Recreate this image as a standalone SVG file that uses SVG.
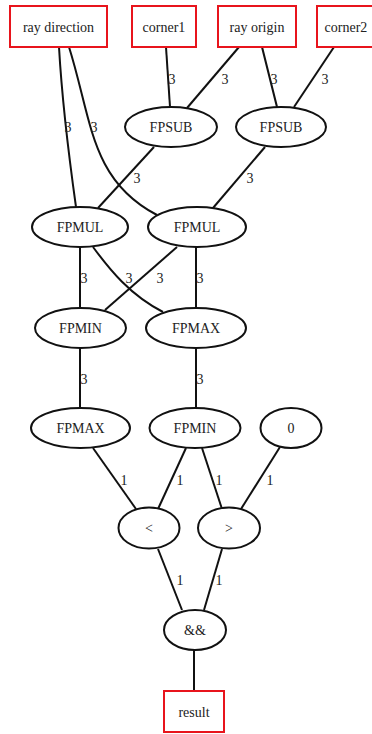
<svg xmlns="http://www.w3.org/2000/svg" width="372" height="734" viewBox="0 0 372 734">
<style>
text{font-family:'Times New Roman','Liberation Serif',Times,'DejaVu Serif',serif;font-size:14px;fill:#222;text-anchor:middle}
.box{fill:#fff;stroke:#e8141c;stroke-width:2}
.op{fill:#fff;stroke:#111;stroke-width:2}
#edges path{fill:none;stroke:#111;stroke-width:2}
</style>
<rect width="372" height="734" fill="#fff"/>
<g id="edges">
<path d="M59,47 C62,100 68,150 76,207"/>
<path d="M69,47 C92,120 90,180 157,215"/>
<path d="M166,47 L170,107"/>
<path d="M239,47 L187,108"/>
<path d="M262,47 L277,107"/>
<path d="M334,47 L294,107"/>
<path d="M154,147 L98,208"/>
<path d="M265,147 L213,208"/>
<path d="M80,247 L80,308"/>
<path d="M93,247 C110,270 130,295 163,312"/>
<path d="M177,247 L105,310"/>
<path d="M196,247 L196,308"/>
<path d="M80,348 L80,408"/>
<path d="M196,348 L196,408"/>
<path d="M93,448 L136,509"/>
<path d="M186,448 L158,509"/>
<path d="M202,448 L222,509"/>
<path d="M280,447 L241,509"/>
<path d="M158,549 L182,610"/>
<path d="M222,549 L204,610"/>
<path d="M194,650 L194,691"/>
<text x="68" y="132">3</text>
<text x="94" y="132">3</text>
<text x="172" y="84">3</text>
<text x="225" y="84">3</text>
<text x="274" y="84">3</text>
<text x="325" y="84">3</text>
<text x="137" y="183">3</text>
<text x="250" y="183">3</text>
<text x="84" y="283">3</text>
<text x="129" y="283">3</text>
<text x="160" y="283">3</text>
<text x="200" y="283">3</text>
<text x="84" y="384">3</text>
<text x="200" y="384">3</text>
<text x="124" y="485">1</text>
<text x="180" y="485">1</text>
<text x="219" y="485">1</text>
<text x="270" y="485">1</text>
<text x="180" y="585">1</text>
<text x="219" y="585">1</text>
</g>
<g id="ray_direction"><rect class="box" x="10" y="6" width="97" height="41"/><text x="58.5" y="32">ray direction</text></g>
<g id="corner1"><rect class="box" x="132" y="6" width="64" height="41"/><text x="164" y="32">corner1</text></g>
<g id="ray_origin"><rect class="box" x="218" y="6" width="78" height="41"/><text x="257" y="32">ray origin</text></g>
<g id="corner2"><rect class="box" x="317" y="6" width="60" height="41"/><text x="346" y="32">corner2</text></g>
<g id="fpsub1"><ellipse class="op" cx="171" cy="127" rx="46" ry="20"/><text x="171" y="132">FPSUB</text></g>
<g id="fpsub2"><ellipse class="op" cx="281" cy="127" rx="45" ry="20"/><text x="281" y="132">FPSUB</text></g>
<g id="fpmul1"><ellipse class="op" cx="80" cy="227" rx="48" ry="20"/><text x="80" y="232">FPMUL</text></g>
<g id="fpmul2"><ellipse class="op" cx="197" cy="227" rx="49" ry="20"/><text x="197" y="232">FPMUL</text></g>
<g id="fpmin1"><ellipse class="op" cx="80.5" cy="328" rx="45.5" ry="20"/><text x="80.5" y="333">FPMIN</text></g>
<g id="fpmax1"><ellipse class="op" cx="196" cy="328" rx="50" ry="20"/><text x="196" y="333">FPMAX</text></g>
<g id="fpmax2"><ellipse class="op" cx="80.5" cy="428" rx="49.5" ry="20"/><text x="80.5" y="433">FPMAX</text></g>
<g id="fpmin2"><ellipse class="op" cx="195" cy="428" rx="45.5" ry="20"/><text x="195" y="433">FPMIN</text></g>
<g id="zero"><ellipse class="op" cx="291" cy="428" rx="30.5" ry="20"/><text x="291" y="433">0</text></g>
<g id="lt"><ellipse class="op" cx="149" cy="528" rx="30.5" ry="20.5"/><text x="149" y="533">&lt;</text></g>
<g id="gt"><ellipse class="op" cx="229" cy="528" rx="31" ry="20.5"/><text x="229" y="533">&gt;</text></g>
<g id="and"><ellipse class="op" cx="195" cy="630" rx="31" ry="20"/><text x="195" y="635">&amp;&amp;</text></g>
<g id="result"><rect class="box" x="164" y="691" width="60" height="41"/><text x="194" y="717">result</text></g>
</svg>
